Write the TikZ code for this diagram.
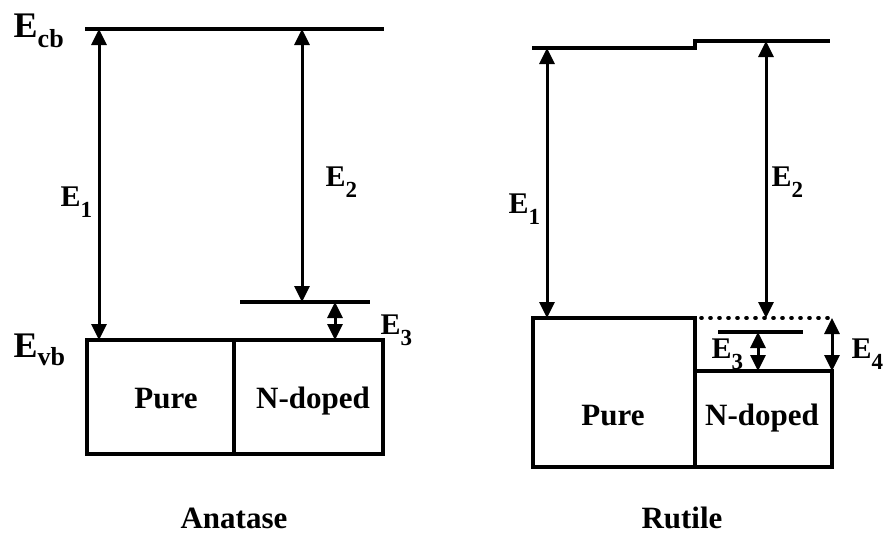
\documentclass[tikz,border=0pt]{standalone}
\usepackage{fontspec}
\setmainfont{Liberation Serif}
\usetikzlibrary{arrows.meta}
\newcommand{\lowsub}[3]{\raisebox{-#1pt}{\fontsize{#2pt}{#2pt}\selectfont #3}}
\begin{document}
\begin{tikzpicture}[x=1pt,y=-1pt, line width=3.4pt,
  box/.style={draw, rectangle, line width=3.4pt, inner sep=0pt, outer sep=0pt},
  dbl/.style={{Triangle[length=16pt,width=15pt]}-{Triangle[length=16pt,width=15pt]}, line width=3pt},
  elab/.style={inner sep=0pt, anchor=base west, font=\fontsize{30pt}{30pt}\selectfont\bfseries},
  biglab/.style={inner sep=0pt, anchor=base west, font=\fontsize{36pt}{36pt}\selectfont\bfseries},
  txt/.style={inner sep=0pt, anchor=base, font=\fontsize{31pt}{31pt}\selectfont\bfseries},
  dots/.style={line width=3.6pt, line cap=round, dash pattern=on 1pt off 8pt}]
\useasboundingbox (0,0) rectangle (884,536);

% ---------------- Anatase (left) ----------------
\coordinate (cbA1) at (85,29);
\coordinate (cbA2) at (384,29);
\draw (cbA1) -- (cbA2);

\node[box, minimum width=147pt, minimum height=114pt] (pureA) at (160.5,397) {};
\node[box, minimum width=149pt, minimum height=114pt] (dopA) at (308.5,397) {};

\coordinate (lvA1) at (240,302);
\coordinate (lvA2) at (370,302);
\draw (lvA1) -- (lvA2);

\coordinate (e1At) at (99,29);   \coordinate (e1Ab) at (99,340);
\coordinate (e2At) at (302,29);  \coordinate (e2Ab) at (302,302);
\coordinate (e3At) at (335,302); \coordinate (e3Ab) at (335,340);
\draw[dbl] (e1At) -- (e1Ab);
\draw[dbl] (e2At) -- (e2Ab);
\draw[dbl] (e3At) -- (e3Ab);

\node[biglab] (ecb) at (12,37) {E\lowsub{10}{26}{cb}};
\node[biglab] (evb) at (12,357) {E\lowsub{8}{26}{vb}};
\node[elab] (e1A) at (59,206) {E\lowsub{11}{23}{1}};
\node[elab] (e2A) at (324,186) {E\lowsub{11}{23}{2}};
\node[elab] (e3A) at (379,334) {E\lowsub{11}{23}{3}};

\node[txt] (pureAt) at (166,408) {Pure};
\node[txt] (dopAt) at (313,408) {N-doped};
\node[txt] (anat) at (234,528) {Anatase};

% ---------------- Rutile (right) ----------------
\coordinate (cbR1) at (532,48);
\coordinate (cbR2) at (695,48);
\coordinate (cbR3) at (695,41);
\coordinate (cbR4) at (830,41);
\draw (cbR1) -- (cbR2) -- (cbR3) -- (cbR4);

\node[box, minimum width=162pt, minimum height=149pt] (pureR) at (614,392.5) {};
\node[box, minimum width=137pt, minimum height=96pt] (dopR) at (763.5,419) {};

\coordinate (dtR1) at (701,318);
\coordinate (dtR2) at (832,318);
\draw[dots] (dtR1) -- (dtR2);

\coordinate (lvR1) at (718,332);
\coordinate (lvR2) at (803,332);
\draw (lvR1) -- (lvR2);

\coordinate (e1Rt) at (547,48);  \coordinate (e1Rb) at (547,318);
\coordinate (e2Rt) at (766,41);  \coordinate (e2Rb) at (766,318);
\coordinate (e3Rt) at (758,332); \coordinate (e3Rb) at (758,371);
\coordinate (e4Rt) at (832,318); \coordinate (e4Rb) at (832,371);
\draw[dbl] (e1Rt) -- (e1Rb);
\draw[dbl] (e2Rt) -- (e2Rb);
\draw[dbl] (e3Rt) -- (e3Rb);
\draw[dbl] (e4Rt) -- (e4Rb);

\node[elab] (e1R) at (507,213) {E\lowsub{11}{23}{1}};
\node[elab] (e2R) at (770,186) {E\lowsub{11}{23}{2}};
\node[elab] (e3R) at (710,358) {E\lowsub{11}{23}{3}};
\node[elab] (e4R) at (850,358) {E\lowsub{11}{23}{4}};

\node[txt] (pureRt) at (613,425) {Pure};
\node[txt] (dopRt) at (762,425) {N-doped};
\node[txt] (rut) at (682,528) {Rutile};
\end{tikzpicture}
\end{document}
